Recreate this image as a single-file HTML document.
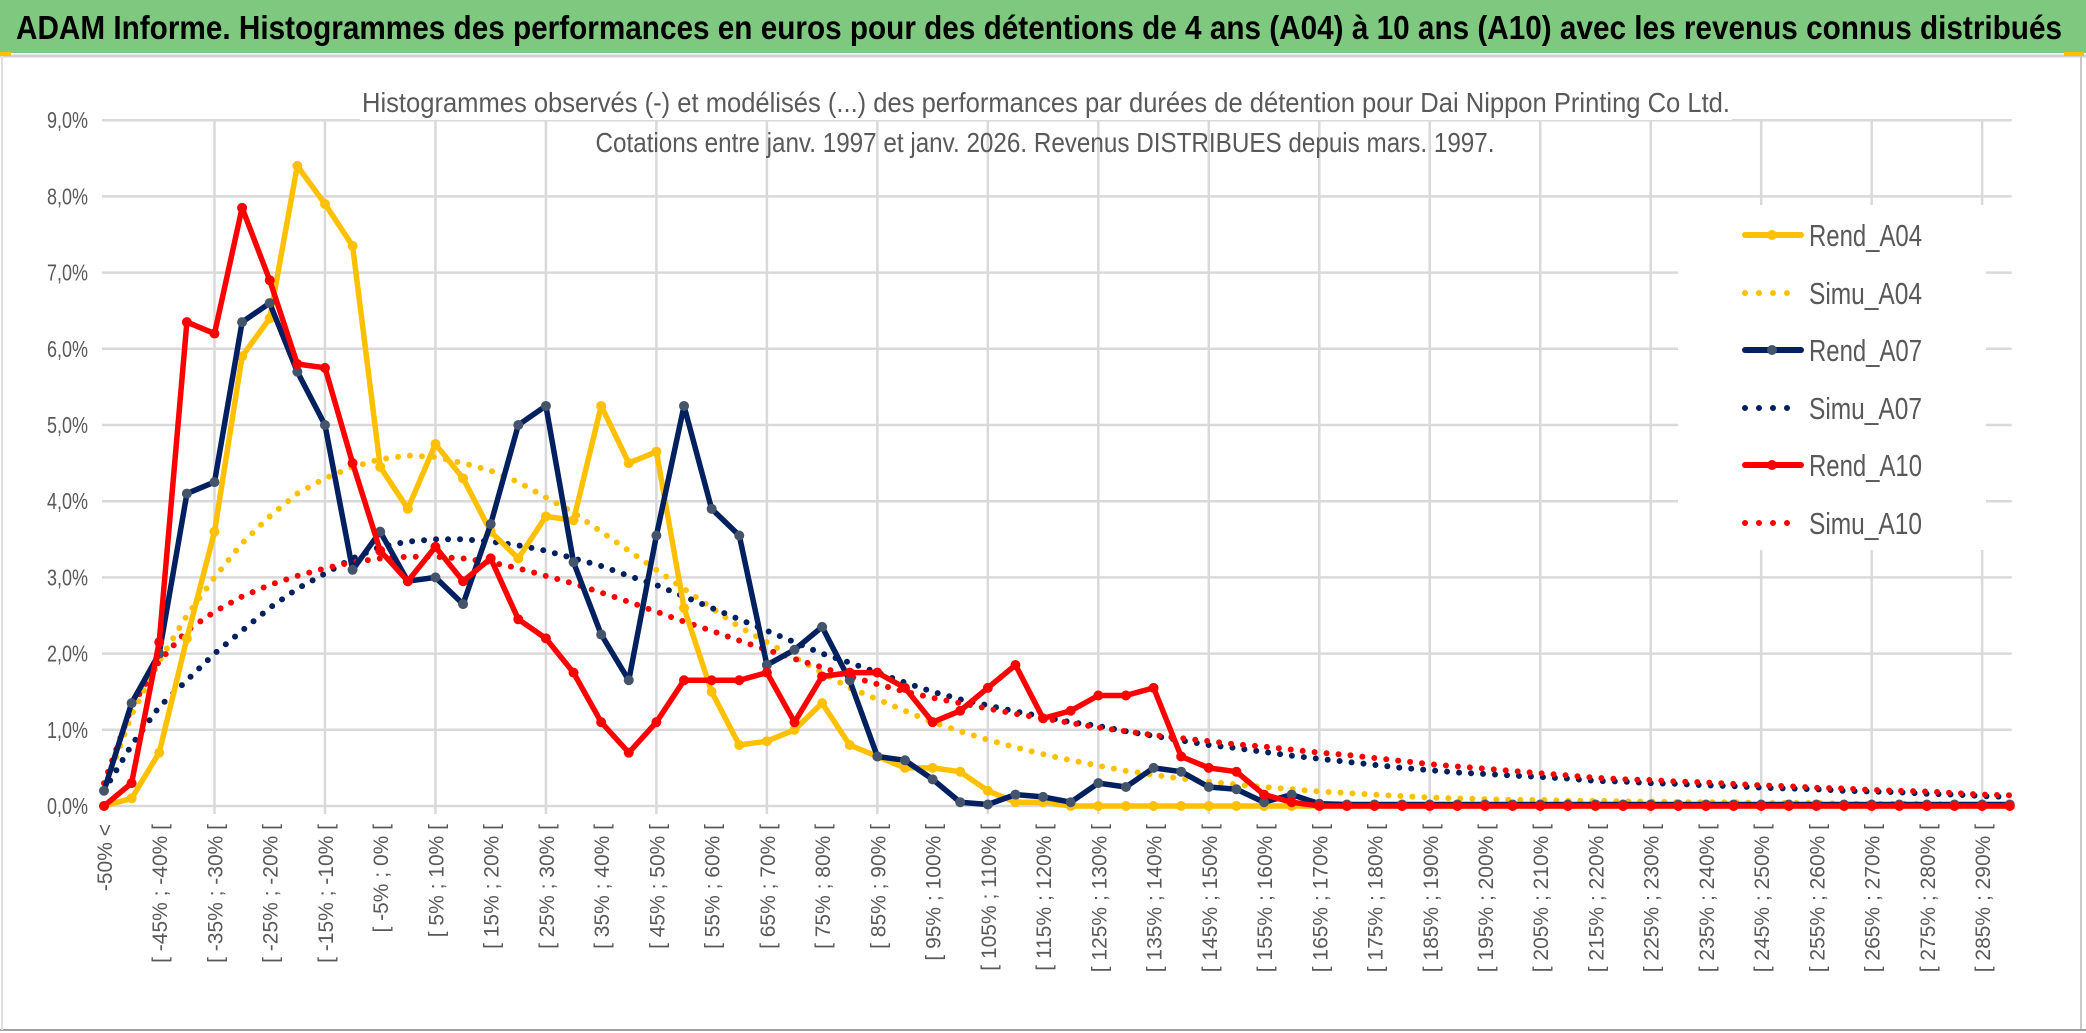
<!DOCTYPE html>
<html><head><meta charset="utf-8">
<style>
html,body{margin:0;padding:0;background:#fff;}
svg{display:block;font-family:"Liberation Sans",sans-serif;}
</style></head>
<body>
<svg id="chart" width="2086" height="1033" viewBox="0 0 2086 1033">
  <rect x="0" y="0" width="2086" height="1033" fill="#fff"/>
  <rect x="0" y="0" width="2086" height="53" fill="#7EC87F"/>
  <line x1="0" y1="56" x2="2086" y2="56" stroke="#D0D0D0" stroke-width="3"/>
  <line x1="2081" y1="56" x2="2081" y2="1030" stroke="#C8C8C8" stroke-width="2"/>
  <line x1="0" y1="1030" x2="2086" y2="1030" stroke="#A0A0A0" stroke-width="2"/>
  <line x1="2" y1="56" x2="2" y2="1030" stroke="#E0E0E0" stroke-width="2"/>
  <rect x="0" y="52" width="11" height="4" fill="#FFC000"/>
  <rect x="2064" y="52" width="20" height="4" fill="#FFC000"/>
  <text x="16" y="39" font-size="33" font-weight="bold" fill="#000" textLength="2046" lengthAdjust="spacingAndGlyphs">ADAM Informe. Histogrammes des performances en euros pour des détentions de 4 ans (A04) à 10 ans (A10) avec les revenus connus distribués</text>
  <g id="grid"></g>
  <g id="yaxis"></g>
  <g id="xaxis"></g>
  <rect x="360" y="82" width="1372" height="38" fill="#fff"/>
  <text x="1046" y="112" font-size="28" fill="#595959" text-anchor="middle" textLength="1368" lengthAdjust="spacingAndGlyphs">Histogrammes observés (-) et modélisés (...) des performances par durées de détention pour Dai Nippon Printing Co Ltd.</text>
  <text x="1045" y="152" font-size="28" fill="#595959" text-anchor="middle" textLength="899" lengthAdjust="spacingAndGlyphs">Cotations entre janv. 1997 et janv. 2026. Revenus DISTRIBUES depuis mars. 1997.</text>
  <g id="series"></g>
  <g id="legend"></g>
</svg>
<script>
const categories = (function(){const c=["-50% <"];for(let a=-50;a<295;a+=5){c.push("[ "+a+"% ; "+(a+5)+"% [");}return c;})();
const yTicks = [0,1,2,3,4,5,6,7,8,9];
const yTickLabels = ["0,0%","1,0%","2,0%","3,0%","4,0%","5,0%","6,0%","7,0%","8,0%","9,0%"];
const rendA04 = [0,0.1,0.7,2.2,3.6,5.9,6.4,8.4,7.9,7.35,4.45,3.9,4.75,4.3,3.6,3.25,3.8,3.75,5.25,4.5,4.65,2.6,1.5,0.8,0.85,1.0,1.35,0.8,0.65,0.5,0.5,0.45,0.2,0.05,0.05,0,0,0,0,0,0,0,0,0,0,0,0,0,0,0,0,0,0,0,0,0,0,0,0,0,0,0,0,0,0,0,0,0,0,0];
const simuA04 = [0.2,1.2,1.9,2.5,3.0,3.45,3.8,4.1,4.3,4.45,4.55,4.6,4.58,4.5,4.4,4.25,4.05,3.85,3.6,3.35,3.1,2.85,2.6,2.35,2.15,1.95,1.75,1.55,1.4,1.25,1.1,0.98,0.87,0.77,0.68,0.6,0.53,0.46,0.41,0.36,0.32,0.28,0.25,0.22,0.19,0.17,0.15,0.13,0.11,0.1,0.09,0.08,0.08,0.07,0.07,0.06,0.06,0.05,0.05,0.05,0.04,0.04,0.04,0.03,0.03,0.03,0.03,0.02,0.02,0.02];
const rendA07 = [0.2,1.35,2.0,4.1,4.25,6.35,6.6,5.7,5.0,3.1,3.6,2.95,3.0,2.65,3.7,5.0,5.25,3.2,2.25,1.65,3.55,5.25,3.9,3.55,1.85,2.05,2.35,1.65,0.65,0.6,0.35,0.05,0.02,0.15,0.12,0.05,0.3,0.25,0.5,0.45,0.25,0.22,0.05,0.15,0.03,0.02,0.02,0.02,0.02,0.02,0.02,0.02,0.02,0.02,0.02,0.02,0.02,0.02,0.02,0.02,0.02,0.02,0.02,0.02,0.02,0.02,0.02,0.02,0.02,0.02];
const simuA07 = [0.2,0.8,1.3,1.65,2.0,2.3,2.6,2.85,3.05,3.25,3.4,3.47,3.5,3.5,3.47,3.42,3.35,3.25,3.15,3.02,2.9,2.75,2.6,2.45,2.3,2.15,2.0,1.88,1.75,1.62,1.5,1.4,1.32,1.24,1.17,1.1,1.05,0.98,0.92,0.86,0.8,0.76,0.71,0.66,0.62,0.58,0.54,0.5,0.47,0.44,0.42,0.4,0.38,0.36,0.33,0.32,0.3,0.29,0.27,0.26,0.24,0.23,0.22,0.2,0.19,0.18,0.16,0.15,0.13,0.12];
const rendA10 = [0,0.3,2.15,6.35,6.2,7.85,6.9,5.8,5.75,4.5,3.35,2.95,3.4,2.95,3.25,2.45,2.2,1.75,1.1,0.7,1.1,1.65,1.65,1.65,1.75,1.1,1.7,1.75,1.75,1.55,1.1,1.25,1.55,1.85,1.15,1.25,1.45,1.45,1.55,0.65,0.5,0.45,0.15,0.05,0,0,0,0,0,0,0,0,0,0,0,0,0,0,0,0,0,0,0,0,0,0,0,0,0,0];
const simuA10 = [0.3,1.3,1.9,2.3,2.55,2.75,2.9,3.02,3.12,3.2,3.25,3.27,3.27,3.25,3.2,3.12,3.02,2.92,2.8,2.68,2.55,2.42,2.3,2.17,2.05,1.93,1.82,1.7,1.6,1.5,1.42,1.35,1.28,1.21,1.15,1.09,1.03,0.98,0.93,0.89,0.85,0.81,0.78,0.74,0.7,0.67,0.63,0.59,0.55,0.52,0.49,0.46,0.43,0.4,0.37,0.35,0.34,0.32,0.31,0.29,0.27,0.26,0.24,0.23,0.21,0.2,0.19,0.17,0.15,0.14];

const NS="http://www.w3.org/2000/svg";
const X0=104, DX=27.62, Y0=806, PY=76.2;
function xScale(i){return X0+i*DX;}
function yScale(v){return Y0-v*PY;}
function mk(tag,attrs,parent){const e=document.createElementNS(NS,tag);for(const k in attrs)e.setAttribute(k,attrs[k]);parent.appendChild(e);return e;}

const grid=document.getElementById('grid');
const xEnd=xScale(categories.length-1)+2;
for(let i=0;i<yTicks.length;i++){
  const l=mk('line',{x1:X0-2,x2:xEnd,y1:yScale(yTicks[i]),y2:yScale(yTicks[i]),stroke:'#D9D9D9','stroke-width':2.5},grid);
  
  
}
for(let i=4;i<categories.length;i+=4){
  const l=mk('line',{x1:xScale(i),x2:xScale(i),y1:yScale(9),y2:Y0+8,stroke:'#D9D9D9','stroke-width':2.5},grid);
  
  
}
const ya=document.getElementById('yaxis');
for(let i=0;i<yTicks.length;i++){
  const t=mk('text',{x:88,y:yScale(yTicks[i])+8,'font-size':23,fill:'#595959','text-anchor':'end',textLength:41,lengthAdjust:'spacingAndGlyphs'},ya);
  t.textContent=yTickLabels[i];
  
  
}
const xa=document.getElementById('xaxis');
for(let i=0;i<categories.length;i+=2){
  const x=xScale(i)+8, y=824;
  const t=mk('text',{x:x,y:y,'font-size':21,fill:'#595959','text-anchor':'end',transform:'rotate(-90 '+x+' '+y+')'},xa);
  t.textContent=categories[i];
  
  
}

const sg=document.getElementById('series');
function pts(arr){return arr.map((v,i)=>xScale(i).toFixed(1)+','+yScale(v).toFixed(1)).join(' ');}
function dotted(arr,color,name){
  const p=mk('polyline',{points:pts(arr),fill:'none',stroke:color,'stroke-width':6,'stroke-linecap':'round','stroke-dasharray':'0 12'},sg);
  
  
}
function solid(arr,color,mcolor,name){
  const p=mk('polyline',{points:pts(arr),fill:'none',stroke:color,'stroke-width':5.5,'stroke-linejoin':'round'},sg);
  
  
  arr.forEach((v,i)=>{
    const c=mk('circle',{cx:xScale(i),cy:yScale(v),r:5,fill:mcolor},sg);
    
    
  });
}
dotted(simuA04,'#FFC000','simu-a04-line');
dotted(simuA07,'#002060','simu-a07-line');
dotted(simuA10,'#FF0000','simu-a10-line');
solid(rendA04,'#FFC000','#FFC000','rend-a04-line');
solid(rendA07,'#002060','#44546A','rend-a07-line');
solid(rendA10,'#FF0000','#FF0000','rend-a10-line');

const lg=document.getElementById('legend');
mk('rect',{x:1678,y:205,width:308,height:345,fill:'#fff'},lg);
const legendNames=["Rend_A04","Simu_A04","Rend_A07","Simu_A07","Rend_A10","Simu_A10"];
const legendColors=["#FFC000","#FFC000","#002060","#002060","#FF0000","#FF0000"];
const legendY=[235,293,350,408,465,523];
legendNames.forEach((n,i)=>{
  const g=mk('g',{},lg);
  
  
  const y=legendY[i];
  if(i%2===0){
    mk('line',{x1:1745,x2:1801,y1:y,y2:y,stroke:legendColors[i],'stroke-width':6,'stroke-linecap':'round'},g);
    mk('circle',{cx:1772,cy:y,r:5,fill:i===2?'#44546A':legendColors[i]},g);
  } else {
    mk('line',{x1:1745,x2:1800,y1:y,y2:y,stroke:legendColors[i],'stroke-width':6,'stroke-linecap':'round','stroke-dasharray':'0 14'},g);
  }
  const t=mk('text',{x:1809,y:y+11,'font-size':31,fill:'#595959',textLength:113,lengthAdjust:'spacingAndGlyphs'},g);
  t.textContent=n;
});
</script>
</body></html>
